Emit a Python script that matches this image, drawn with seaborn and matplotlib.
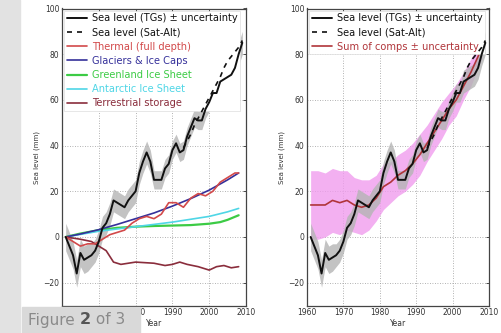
import numpy as np
import pandas as pd
import matplotlib
matplotlib.use("Agg")
import matplotlib.pyplot as plt
import seaborn as sns
from matplotlib.patches import Rectangle

# ---------------- data ----------------
tg_years = list(range(1961, 2010))
tg_level = [0, -4, -8, -16, -7, -10, -9, -8, -6, -2,
            4, 6, 10, 16, 15, 14, 13, 16, 18, 20,
            28, 33, 37, 33, 25, 25, 25, 30, 32, 38,
            41, 37, 38, 44, 48, 52, 51, 51, 56, 59,
            63, 63, 68, 69, 70, 71, 74, 80, 85]
tg_unc = [6, 6, 6, 6, 6, 6, 6, 5, 5, 5,
          5, 5, 5, 5, 5, 5, 5, 5, 5, 5,
          5, 5, 5, 5, 4, 4, 4, 4, 4, 4,
          4, 4, 4, 4, 4, 4, 4, 4, 4, 4,
          4, 4, 5, 5, 5, 5, 5, 5, 5]

sat_years = list(range(1993, 2010))
sat_level = [39, 42, 45, 49, 52, 55, 58, 61, 64, 67, 70, 74, 77, 79, 81, 83, 86]

thermal_years = [1961, 1963, 1965, 1967, 1969, 1971, 1973, 1975, 1977, 1979, 1981,
                 1983, 1985, 1987, 1989, 1991, 1993, 1995, 1997, 1999, 2001,
                 2003, 2005, 2007, 2008]
thermal = [0, -2, -4, -3, -3, -1, 1, 2, 3, 6, 8,
           9, 8, 10, 15, 15, 13, 17, 19, 18, 20,
           24, 26, 28, 28]

glac_years = [1961, 1965, 1970, 1975, 1980, 1985, 1990, 1995, 2000, 2005, 2008]
glaciers = [0, 1.3, 3.2, 5.5, 8, 10.5, 13.5, 16.8, 20.5, 25, 28]

green_years = [1961, 1965, 1970, 1975, 1980, 1985, 1990, 1995, 2000, 2003, 2005, 2008]
greenland = [0, 1.5, 3, 4, 4.5, 4.8, 5, 5.2, 5.8, 6.5, 7.5, 9.5]

ant_years = [1961, 1970, 1980, 1990, 2000, 2005, 2008]
antarctic = [0, 2.5, 4.5, 6.5, 9, 11, 12.5]

terr_years = [1961, 1965, 1968, 1970, 1972, 1974, 1976, 1980, 1985, 1988, 1990,
              1992, 1994, 1997, 2000, 2002, 2004, 2006, 2008]
terrestrial = [0, -1, -2, -4, -6, -11, -12, -11, -11.5, -12.5, -12,
               -11, -12, -13, -14.5, -13, -12.5, -13.5, -13]

sum_years = [1961, 1963, 1965, 1967, 1969, 1971, 1973, 1975, 1977, 1979, 1981,
             1983, 1985, 1987, 1989, 1991, 1993, 1995, 1997, 1999, 2001,
             2003, 2005, 2007, 2008]
sum_comps = [14, 14, 14, 16, 15, 16, 14, 13, 14, 17, 22,
             24, 27, 29, 32, 36, 41, 46, 51, 56, 60,
             66, 72, 79, 83]
sum_unc = [15, 15, 14, 14, 14, 13, 12, 12, 11, 10, 10,
           9, 9, 9, 9, 9, 8, 8, 8, 7, 7,
           6, 6, 5, 5]

x_ticks = [1960, 1970, 1980, 1990, 2000, 2010]
y_ticks = [-20, 0, 20, 40, 60, 80, 100]

labels_left = ["Sea level (TGs) \u00b1 uncertainty", "Sea level (Sat-Alt)",
               "Thermal (full depth)", "Glaciers & Ice Caps",
               "Greenland Ice Sheet", "Antarctic Ice Sheet", "Terrestrial storage"]
labels_right = ["Sea level (TGs) \u00b1 uncertainty", "Sea level (Sat-Alt)",
                "Sum of comps \u00b1 uncertainty"]

# ---------------- style ----------------
sns.set_theme(style="white")
plt.rcParams['font.family'] = ['DejaVu Sans']

W, H = 501, 333
fig = plt.figure(figsize=(W / 100, H / 100), dpi=100, facecolor="white")

def px_axes(x0, y0, x1, y1):
    return fig.add_axes([x0 / W, 1 - y1 / H, (x1 - x0) / W, (y1 - y0) / H])

axL = px_axes(62, 8.5, 246, 305.5)
axR = px_axes(307, 8.5, 489, 305.5)

c_black = "#111111"
c_thermal = "#d2494a"
c_glac = "#35309a"
c_green = "#3ccb45"
c_ant = "#4fd6e6"
c_terr = "#8a2d3c"
c_sum = "#b0353a"
c_pink = "#f09cee"

tg = pd.DataFrame({"year": tg_years, "level": tg_level, "unc": tg_unc})

def draw_tg(ax):
    ax.fill_between(tg["year"], tg["level"] - tg["unc"], tg["level"] + tg["unc"],
                    color="#b4b4b4", alpha=0.8, lw=0, zorder=2)

# left panel
draw_tg(axL)
sns.lineplot(x=tg_years, y=tg_level, ax=axL, color=c_black, lw=1.4, label=labels_left[0], zorder=6)
sns.lineplot(x=sat_years, y=sat_level, ax=axL, color=c_black, lw=1.2, ls=(0, (3, 3)), label=labels_left[1], zorder=7)
sns.lineplot(x=thermal_years, y=thermal, ax=axL, color=c_thermal, lw=1.2, label=labels_left[2], zorder=5)
sns.lineplot(x=glac_years, y=glaciers, ax=axL, color=c_glac, lw=1.2, label=labels_left[3], zorder=4)
sns.lineplot(x=green_years, y=greenland, ax=axL, color=c_green, lw=1.6, label=labels_left[4], zorder=3)
sns.lineplot(x=ant_years, y=antarctic, ax=axL, color=c_ant, lw=1.2, label=labels_left[5], zorder=3)
sns.lineplot(x=terr_years, y=terrestrial, ax=axL, color=c_terr, lw=1.2, label=labels_left[6], zorder=4)

# right panel
sd = pd.DataFrame({"year": sum_years, "v": sum_comps, "u": sum_unc})
axR.fill_between(sd["year"], sd["v"] - sd["u"], sd["v"] + sd["u"], color=c_pink, alpha=0.8, lw=0, zorder=1)
draw_tg(axR)
sns.lineplot(x=tg_years, y=tg_level, ax=axR, color=c_black, lw=1.4, label=labels_right[0], zorder=6)
sns.lineplot(x=sat_years, y=sat_level, ax=axR, color=c_black, lw=1.2, ls=(0, (3, 3)), label=labels_right[1], zorder=7)
sns.lineplot(x=sum_years, y=sum_comps, ax=axR, color=c_sum, lw=1.2, label=labels_right[2], zorder=5)

for ax in (axL, axR):
    ax.set_xlim(1960, 2010)
    ax.set_ylim(-30, 100)
    ax.set_xticks(x_ticks)
    ax.set_yticks(y_ticks)
    ax.tick_params(direction="in", length=2.5, width=0.6, labelsize=5.5, pad=2,
                   top=True, right=True, colors="#333333", labelcolor="#333333")
    ax.grid(True, ls=(0, (1, 2)), color="#999999", lw=0.6)
    for s in ax.spines.values():
        s.set_color("#444444")
        s.set_linewidth(0.9)
    ax.set_ylabel("Sea level (mm)", fontsize=5, color="#333333", labelpad=2)
    ax.set_xlabel("Year", fontsize=5.5, color="#333333", labelpad=1)
    leg = ax.legend(loc="upper left", fontsize=7.1, frameon=True, handlelength=2.0,
                    labelspacing=0.42, borderaxespad=0.25, borderpad=0.25,
                    handletextpad=0.5, labelcolor="linecolor", fancybox=False)
    leg.get_frame().set_edgecolor("#dddddd")
    leg.get_frame().set_linewidth(0.5)
    leg.get_frame().set_alpha(1)

# the 1960 and 1970 labels of the left panel sit under the caption box
axL.set_xticks(x_ticks, ["", ""] + [str(v) for v in x_ticks[2:]])

# page decorations
fig.patches.append(Rectangle((0, 0), 20 / W, 1, transform=fig.transFigure,
                             color="#e2e2e2", zorder=0))
fig.patches.append(Rectangle((22 / W, 0), 118 / W, 26 / H, transform=fig.transFigure,
                             color="#d9d9d9", zorder=10))
t1 = fig.text(28 / W, 13 / H, "Figure ", fontsize=11, color="#8a8a8a", va="center",
              ha="left", zorder=11)
t2 = fig.text(0, 0, "2", fontsize=11.5, color="#555555", fontweight="bold", zorder=11)
t3 = fig.text(0, 0, " of 3", fontsize=11, color="#8a8a8a", zorder=11)
fig.canvas.draw()
r = fig.canvas.get_renderer()
bb = t1.get_window_extent(r)
t2.set_position((bb.x1 / W, bb.y0 / H))
t2.set_va("bottom")
fig.canvas.draw()
bb2 = t2.get_window_extent(r)
t3.set_position((bb2.x1 / W, bb.y0 / H))
t3.set_va("bottom")

fig.savefig("out.png", dpi=100, facecolor=fig.get_facecolor())
